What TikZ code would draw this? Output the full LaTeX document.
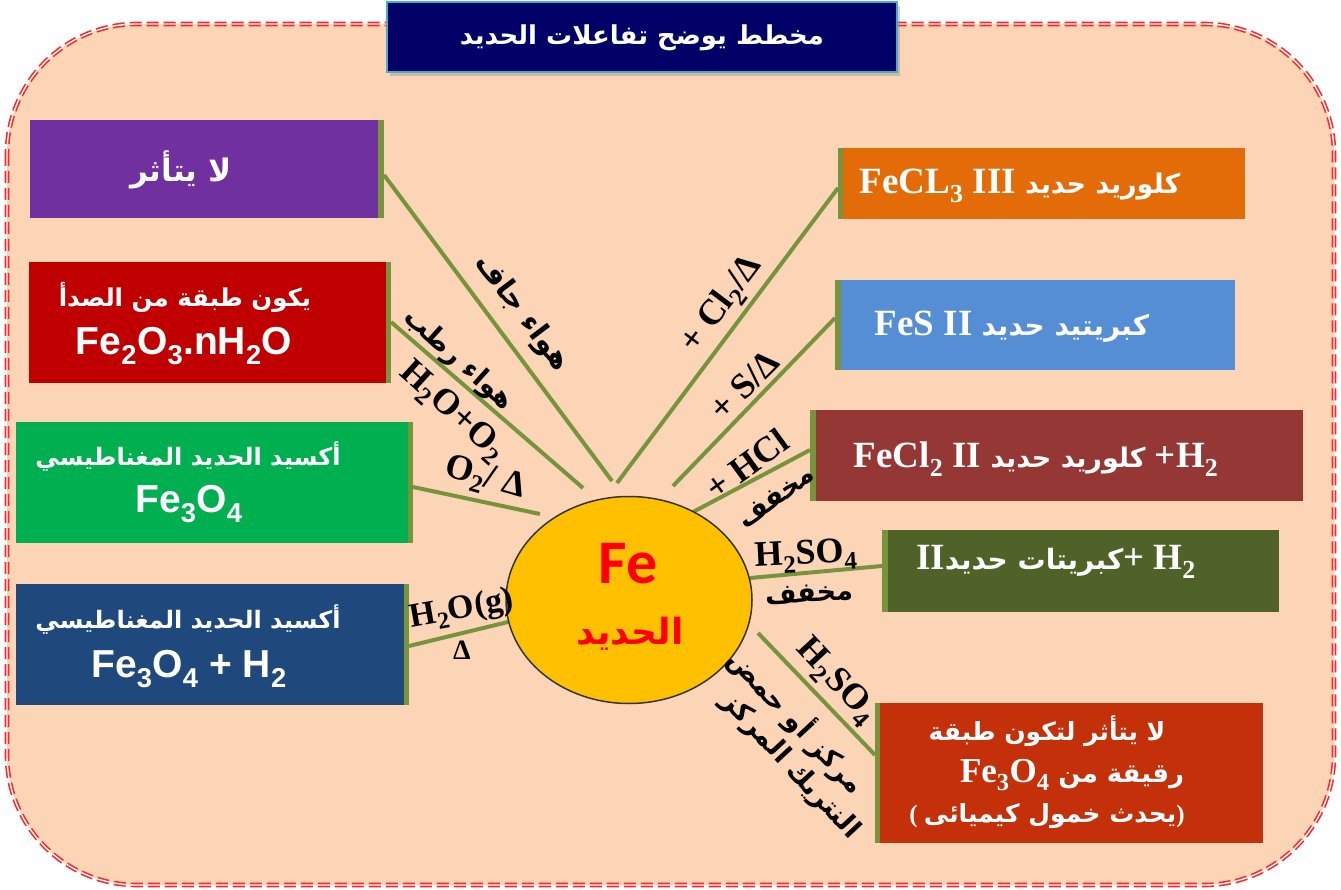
\documentclass[tikz,border=0pt]{standalone}
\usepackage{fontspec}
\setmainfont{Liberation Serif}
\newfontfamily\arabicfont[Script=Arabic]{DejaVu Sans}
\newfontfamily\sansb{Liberation Sans}
\newfontfamily\calfont{Carlito}
\TeXXeTstate=1
\usetikzlibrary{shapes.geometric,shadows}
\newcommand\AR[1]{{\arabicfont\bfseries\beginR #1\endR}}
\newcommand\ARs[2]{{\fontsize{#1}{#1}\selectfont\arabicfont\bfseries\beginR #2\endR}}
\newcommand\fsz[1]{\fontsize{#1}{#1}\selectfont}
\definecolor{peach}{HTML}{FBD5B5}
\definecolor{navy}{HTML}{000066}
\definecolor{tborder}{HTML}{4BACC6}
\definecolor{olivebar}{HTML}{77933C}
\definecolor{cpurple}{HTML}{7030A0}
\definecolor{cred}{HTML}{C00000}
\definecolor{cgreen}{HTML}{00B050}
\definecolor{cblue}{HTML}{1F497D}
\definecolor{corange}{HTML}{E36C09}
\definecolor{clblue}{HTML}{558ED5}
\definecolor{cbrown}{HTML}{953735}
\definecolor{colive}{HTML}{4F6228}
\definecolor{crust}{HTML}{C3300A}
\definecolor{cyel}{HTML}{FFC000}
\tikzset{
  boxst/.style={draw=none, inner sep=0pt, outer sep=0pt},
  barst/.style={fill=olivebar},
  conn/.style={draw=olivebar, line width=4pt},
  wtxt/.style={text=white, inner sep=0pt, align=center},
  lbl/.style={text=black, inner sep=0pt, font=\fsz{36}\bfseries},
  arl/.style={text=black, inner sep=0pt, font=\fsz{27}},
}
\begin{document}
\begin{tikzpicture}[x=1pt,y=-1pt]
\useasboundingbox (0,0) rectangle (1341,890);
\fill[white] (0,0) rectangle (1341,890);
% outer frame
\path[fill=peach, draw=red!85, line width=1.6pt, double=white, double distance=1.4pt,
      dash pattern=on 12pt off 5pt, rounded corners=130pt] (7,24) rectangle (1334,885);
% title
\node[boxst, fill=navy, draw=tborder, line width=2pt, minimum width=510pt, minimum height=70pt,
      drop shadow={shadow xshift=3pt, shadow yshift=-4pt, opacity=0.35}] (title) at (642,37) {};
\node[wtxt, font=\fsz{26}] (titlet) at (642,38) {\AR{مخطط يوضح تفاعلات الحديد}};

% left boxes
\node[boxst, fill=cpurple, minimum width=348pt, minimum height=98pt] (P) at (204,169) {};
\fill[barst] (P.north east) rectangle ([xshift=6pt]P.south east);
\node[boxst, fill=cred, minimum width=357pt, minimum height=121pt] (R) at (207.5,322.5) {};
\fill[barst] (R.north east) rectangle ([xshift=5pt]R.south east);
\node[boxst, fill=cgreen, minimum width=392pt, minimum height=121pt] (G) at (212,482) {};
\fill[barst] (G.north east) rectangle ([xshift=5pt]G.south east);
\node[boxst, fill=cblue, minimum width=388pt, minimum height=121pt] (B) at (210,644.5) {};
\fill[barst] (B.north east) rectangle ([xshift=5pt]B.south east);

% right boxes
\node[boxst, fill=corange, minimum width=402pt, minimum height=71pt] (O) at (1044,183.5) {};
\fill[barst] (O.north west) rectangle ([xshift=-5pt]O.south west);
\node[boxst, fill=clblue, minimum width=394pt, minimum height=90pt] (S) at (1038,325) {};
\fill[barst] (S.north west) rectangle ([xshift=-6pt]S.south west);
\node[boxst, fill=cbrown, minimum width=487pt, minimum height=91pt] (C) at (1059.5,455.5) {};
\fill[barst] (C.north west) rectangle ([xshift=-6pt]C.south west);
\node[boxst, fill=colive, minimum width=391pt, minimum height=82pt] (V) at (1083.5,571) {};
\fill[barst] (V.north west) rectangle ([xshift=-6pt]V.south west);
\node[boxst, fill=crust, minimum width=383pt, minimum height=140pt] (K) at (1071.5,773) {};
\fill[barst] (K.north west) rectangle ([xshift=-5pt]K.south west);

% connector end points
\coordinate (p1) at (384,175);  \coordinate (p2) at (612,481);
\coordinate (r1) at (391,322);  \coordinate (r2) at (583,488);
\coordinate (g1) at (413,487);  \coordinate (g2) at (540,514);
\coordinate (b1) at (409,646);  \coordinate (b2) at (508,622);
\coordinate (o1) at (838,188);  \coordinate (o2) at (617,483);
\coordinate (s1) at (835,318);  \coordinate (s2) at (673,486);
\coordinate (c1) at (810,450);  \coordinate (c2) at (693,512);
\coordinate (v1) at (882,566);  \coordinate (v2) at (750,578);
\coordinate (k1) at (875,755);  \coordinate (k2) at (758,633);
\draw[conn] (p1) -- (p2);
\draw[conn] (r1) -- (r2);
\draw[conn] (g1) -- (g2);
\draw[conn] (b1) -- (b2);
\draw[conn] (o1) -- (o2);
\draw[conn] (s1) -- (s2);
\draw[conn] (c1) -- (c2);
\draw[conn] (v1) -- (v2);
\draw[conn] (k1) -- (k2);

% central circle
\node[ellipse, fill=cyel, draw=black!80, line width=1.5pt, minimum width=246pt, minimum height=207pt, inner sep=0pt] (Fe) at (629,600) {};
\node[text=red, inner sep=0pt, font=\calfont\bfseries\fsz{62}] (Fet) at (628,564) {Fe};
\node[text=red, inner sep=0pt, font=\fsz{36}] (Feat) at (630,634) {\AR{الحديد}};

% box texts (left)
\node[wtxt, font=\fsz{31}] (Pt) at (181,170) {\AR{لا يتأثر}};
\node[wtxt, font=\fsz{24.5}] (Rt1) at (185,297) {\AR{يكون طبقة من الصدأ}};
\node[wtxt, font=\sansb\bfseries\fsz{39}] (Rt2) at (184,346) {Fe\textsubscript{2}O\textsubscript{3}.nH\textsubscript{2}O};
\node[wtxt, font=\fsz{24}] (Gt1) at (188,457) {\AR{أكسيد الحديد المغناطيسي}};
\node[wtxt, font=\sansb\bfseries\fsz{39}] (Gt2) at (189,504) {Fe\textsubscript{3}O\textsubscript{4}};
\node[wtxt, font=\fsz{24}] (Bt1) at (188,620) {\AR{أكسيد الحديد المغناطيسي}};
\node[wtxt, font=\sansb\bfseries\fsz{39}] (Bt2) at (189,669) {Fe\textsubscript{3}O\textsubscript{4} + H\textsubscript{2}};

% box texts (right)
\node[wtxt, font=\bfseries\fsz{37}] (Ot) at (1020,186) {FeCL\textsubscript{3} III \ARs{27}{كلوريد حديد}};
\node[wtxt, font=\bfseries\fsz{37}] (St) at (1012,327) {FeS II \ARs{28}{كبريتيد حديد}};
\node[wtxt, font=\bfseries\fsz{37}] (Ct) at (1036,459) {FeCl\textsubscript{2} II \ARs{27}{كلوريد حديد} +H\textsubscript{2}};
\node[wtxt, font=\bfseries\fsz{37}] (Vt) at (1056,562) {II\ARs{28}{كبريتات حديد}+ H\textsubscript{2}};
\node[wtxt, font=\fsz{25}] (Kt1) at (1047,731) {\AR{لا يتأثر لتكون طبقة}};
\node[wtxt, font=\bfseries\fsz{35}] (Kt2) at (1072,775) {Fe\textsubscript{3}O\textsubscript{4} \ARs{26}{رقيقة من}};
\node[wtxt, font=\fsz{25}] (Kt3) at (1047,816) {\bfseries ( \AR{يحدث خمول كيميائى})};

% connector labels
\node[arl, rotate=-53, font=\fsz{29}] (l1) at (522,313) {\AR{هواء جاف}};
\node[arl, rotate=-42] (l2) at (458,360) {\AR{هواء رطب}};
\node[lbl, rotate=-42] (l3) at (452,412) {H\textsubscript{2}O+O\textsubscript{2}};
\node[lbl, rotate=-16] (l4) at (485,479) {O\textsubscript{2}/ Δ};
\node[lbl, rotate=10, font=\fsz{34}\bfseries] (l5) at (462,610) {H\textsubscript{2}O(g)};
\node[lbl, font=\fsz{28}\bfseries] (l6) at (462,650) {Δ};
\node[lbl, rotate=53] (l7) at (722,305) {+ Cl\textsubscript{2}/Δ};
\node[lbl, rotate=45] (l8) at (744,385) {+ S/Δ};
\node[lbl, rotate=36] (l9) at (747,464) {+ HCl};
\node[arl, rotate=36] (l10) at (776,497) {\AR{مخفف}};
\node[lbl, rotate=3] (l11) at (806,556) {H\textsubscript{2}SO\textsubscript{4}};
\node[arl, rotate=3] (l12) at (809,594) {\AR{مخفف}};
\node[lbl, rotate=-47] (l13) at (836,682) {H\textsubscript{2}SO\textsubscript{4}};
\node[arl, rotate=-47] (l14) at (797,721) {\AR{مركز أو حمض}};
\node[arl, rotate=-47] (l15) at (790,766) {\AR{النتريك المركز}};
\end{tikzpicture}
\end{document}
